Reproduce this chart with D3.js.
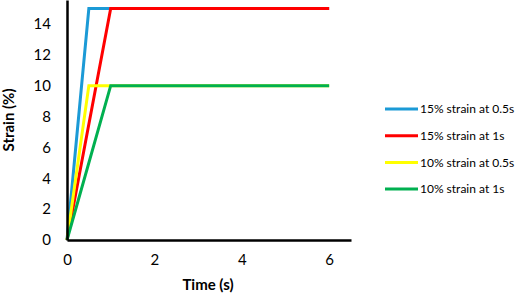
<!DOCTYPE html>
<html>
<head>
<meta charset="utf-8">
<script src="https://cdn.jsdelivr.net/npm/d3@7"></script>
<style>
  body { margin: 0; background: #fff; }
  text { font-family: Lato, "Open Sans", sans-serif; fill: #000; }
</style>
</head>
<body>
<svg id="chart" width="519" height="296"></svg>
<script>
// Data
const seriesNames = ["15% strain at 0.5s", "15% strain at 1s", "10% strain at 0.5s", "10% strain at 1s"];
const seriesColors = ["#1B9AD6", "#FF0000", "#FFFF00", "#00B050"];
const blueTime = [0, 0.5, 6];
const blueStrain = [0, 15, 15];
const redTime = [0, 1, 6];
const redStrain = [0, 15, 15];
const yellowTime = [0, 0.5, 6];
const yellowStrain = [0, 10, 10];
const greenTime = [0, 1, 6];
const greenStrain = [0, 10, 10];
const xTicks = [0, 2, 4, 6];
const yTicks = [0, 2, 4, 6, 8, 10, 12, 14];

const series = [
    [blueTime, blueStrain],
    [redTime, redStrain],
    [yellowTime, yellowStrain],
    [greenTime, greenStrain]
].map(([t, s], i) => ({
    name: seriesNames[i],
    color: seriesColors[i],
    points: t.map((d, j) => ({ x: d, y: s[j] }))
}));

const svg = d3.select("#chart");

const x = d3.scaleLinear().domain([0, 6.5]).range([67, 351]);
const y = d3.scaleLinear().domain([0, 15.55]).range([240, 0]);

// Lines
const line = d3.line().x(d => x(d.x)).y(d => y(d.y));
svg.selectAll("path.series")
    .data(series)
    .join("path")
    .attr("class", "series")
    .attr("d", d => line(d.points))
    .attr("fill", "none")
    .attr("stroke", d => d.color)
    .attr("stroke-width", 3)
    .attr("stroke-linejoin", "miter");

// Axes
const xAxis = svg.append("g")
    .attr("transform", `translate(0,${y(0)})`)
    .call(d3.axisBottom(x).tickValues(xTicks).tickFormat(d3.format("d")).tickSize(0).tickPadding(14));
const yAxis = svg.append("g")
    .attr("transform", `translate(${x(0)},0)`)
    .call(d3.axisLeft(y).tickValues(yTicks).tickFormat(d3.format("d")).tickSize(0).tickPadding(16));

[xAxis, yAxis].forEach(g => {
    g.select(".domain").attr("stroke", "#000").attr("stroke-width", 2.5);
    g.selectAll("text").style("font-size", "15px").attr("fill", "#000");
});

// Axis titles
svg.append("text")
    .attr("x", 208)
    .attr("y", 290)
    .attr("text-anchor", "middle")
    .style("font-size", "15px")
    .style("font-weight", "bold")
    .text("Time (s)");

svg.append("text")
    .attr("transform", "translate(14,120) rotate(-90)")
    .attr("text-anchor", "middle")
    .style("font-size", "15px")
    .style("font-weight", "bold")
    .text("Strain (%)");

// Legend
const legend = svg.append("g").attr("transform", "translate(385,109)");
const rows = legend.selectAll("g")
    .data(series)
    .join("g")
    .attr("transform", (d, i) => `translate(0,${i * 26.7})`);
rows.append("line")
    .attr("x1", 0).attr("x2", 33)
    .attr("stroke", d => d.color)
    .attr("stroke-width", 3);
rows.append("text")
    .attr("x", 35)
    .attr("dy", "0.35em")
    .style("font-size", "12px")
    .text(d => d.name);
</script>
</body>
</html>
